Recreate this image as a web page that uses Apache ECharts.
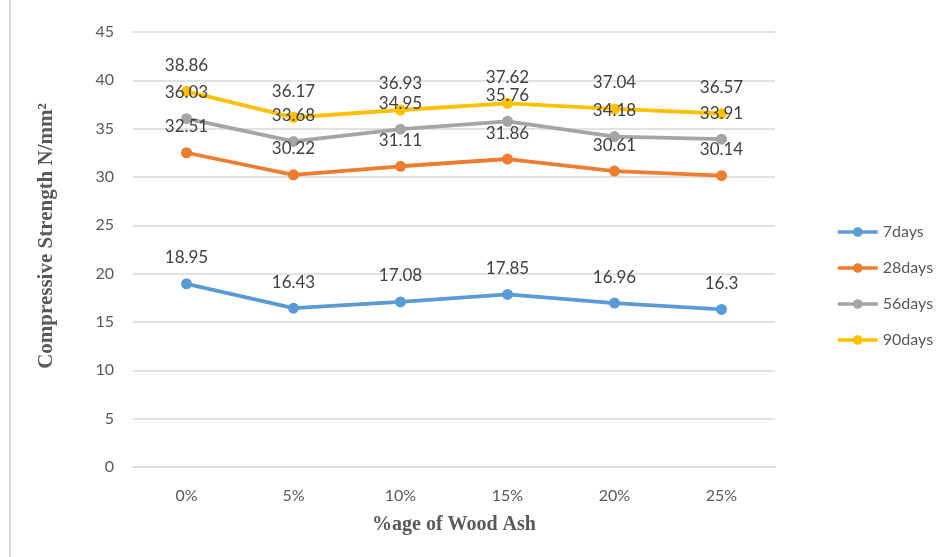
<!DOCTYPE html>
<html>
<head>
<meta charset="utf-8">
<script src="https://cdn.jsdelivr.net/npm/echarts@6/dist/echarts.min.js"></script>
<style>
  html, body { margin: 0; padding: 0; background: #fff; }
  #chart { width: 948px; height: 557px; }
</style>
</head>
<body>
<div id="chart"></div>
<script>
// Compressive strength (N/mm²) by wood ash replacement and curing age
const categories = ['0%', '5%', '10%', '15%', '20%', '25%'];
const days7  = [18.95, 16.43, 17.08, 17.85, 16.96, 16.3];
const days28 = [32.51, 30.22, 31.11, 31.86, 30.61, 30.14];
const days56 = [36.03, 33.68, 34.95, 35.76, 34.18, 33.91];
const days90 = [38.86, 36.17, 36.93, 37.62, 37.04, 36.57];
const seriesNames = ['7days', '28days', '56days', '90days'];
const seriesColors = ['#5B9BD5', '#ED7D31', '#A5A5A5', '#FFC000'];
const yTicks = { min: 0, max: 45, interval: 5 };

const sansFont = 'Lato, "Open Sans", sans-serif';
const serifFont = '"Liberation Serif", "DejaVu Serif", serif';

function makeSeries(name, data, color) {
  return {
    name: name,
    type: 'line',
    data: data,
    symbol: 'circle',
    symbolSize: 11,
    lineStyle: { width: 3.8, color: color },
    itemStyle: { color: color },
    label: {
      show: true,
      position: 'top',
      distance: 12,
      color: '#404040',
      fontFamily: sansFont,
      fontSize: 17
    },
    z: 2
  };
}

const chart = echarts.init(document.getElementById('chart'));
chart.setOption({
  backgroundColor: '#fff',
  animation: false,
  grid: { left: 133, right: 173, top: 32, bottom: 90 },
  legend: {
    orient: 'vertical',
    left: 831,
    top: 219,
    itemWidth: 40,
    itemHeight: 12,
    itemGap: 20,
    data: seriesNames,
    lineStyle: { width: 3.5 },
    textStyle: { color: '#595959', fontFamily: sansFont, fontSize: 16 }
  },
  xAxis: {
    type: 'category',
    data: categories,
    boundaryGap: true,
    name: '%age of Wood Ash',
    nameLocation: 'middle',
    nameGap: 48,
    nameTextStyle: { fontFamily: serifFont, fontWeight: 'bold', fontSize: 20, color: '#595959' },
    axisLine: { lineStyle: { color: '#D9D9D9', width: 1.5 } },
    axisTick: { show: false },
    axisLabel: { color: '#595959', fontFamily: sansFont, fontSize: 16, margin: 21 }
  },
  yAxis: {
    type: 'value',
    min: yTicks.min,
    max: yTicks.max,
    interval: yTicks.interval,
    name: 'Compressive Strength N/mm²',
    nameLocation: 'middle',
    nameGap: 76,
    nameTextStyle: {
      fontFamily: serifFont, fontWeight: 'bold', fontSize: 21, color: '#595959',
      padding: [0, 0, 0, 27]
    },
    axisLine: { show: false },
    axisTick: { show: false },
    axisLabel: { color: '#595959', fontFamily: sansFont, fontSize: 16, margin: 19 },
    splitLine: { lineStyle: { color: '#D9D9D9', width: 1.5 } }
  },
  graphic: [{
    type: 'line',
    shape: { x1: 10, y1: 0, x2: 10, y2: 557 },
    style: { stroke: '#D9D9D9', lineWidth: 2 }
  }],
  series: [
    makeSeries(seriesNames[0], days7, seriesColors[0]),
    makeSeries(seriesNames[1], days28, seriesColors[1]),
    makeSeries(seriesNames[2], days56, seriesColors[2]),
    makeSeries(seriesNames[3], days90, seriesColors[3])
  ]
});
</script>
</body>
</html>
